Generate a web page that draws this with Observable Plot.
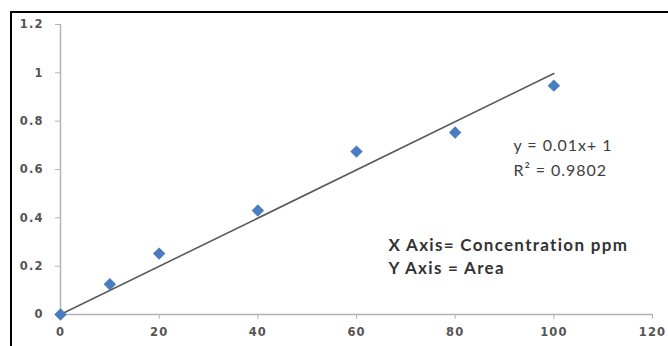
<!DOCTYPE html>
<html>
<head>
<meta charset="utf-8">
<script src="https://cdn.jsdelivr.net/npm/d3@7"></script>
<script src="https://cdn.jsdelivr.net/npm/@observablehq/plot@0.6"></script>
<style>
  html, body { margin: 0; padding: 0; background: #fff; }
  #wrap { position: relative; width: 668px; height: 346px; overflow: hidden; }
  #wrap svg { position: absolute; left: 0; top: 0; }
  .bl { position: absolute; left: 10px; top: 11px; width: 2px; height: 340px; background: #000; }
  .bt { position: absolute; left: 10px; top: 11px; width: 660px; height: 2px; background: #000; }
  g[aria-label="y-axis tick label"] text, g[aria-label="x-axis tick label"] text { letter-spacing: 1.1px; }
  g[aria-label="text"] text { letter-spacing: 0.95px; }
  g[aria-label="text"] text.note { letter-spacing: 1.3px; }
</style>
</head>
<body>
<div id="wrap"><div class="bl"></div><div class="bt"></div></div>
<script>
// Data
const concentration = [0, 10, 20, 40, 60, 80, 100];
const area = [0, 0.125, 0.252, 0.43, 0.674, 0.753, 0.947];
const trendX = [0, 100];
const trendY = [0, 0.997];
const xTicks = [0, 20, 40, 60, 80, 100, 120];
const yTicks = [0, 0.2, 0.4, 0.6, 0.8, 1, 1.2];
const equationLines = ["y = 0.01x+ 1", "R² = 0.9802"];
const noteLines = ["X Axis= Concentration ppm", "Y Axis = Area"];

const points = concentration.map((c, i) => ({x: c, y: area[i]}));
const trend = trendX.map((t, i) => ({x: t, y: trendY[i]}));

const tickFont = {fontSize: 11.5, fontFamily: "DejaVu Sans", fontWeight: "bold", fill: "#555"};

const chart = Plot.plot({
  width: 668,
  height: 346,
  marginLeft: 60,
  marginRight: 16,
  marginTop: 24,
  marginBottom: 32,
  style: {background: "transparent", overflow: "visible"},
  x: {domain: [0, 120]},
  y: {domain: [0, 1.2]},
  marks: [
    Plot.ruleX([0], {stroke: "#b3b3b3", strokeWidth: 1.5}),
    Plot.ruleY([0], {stroke: "#b3b3b3", strokeWidth: 1.5}),
    Plot.axisY({ticks: yTicks, tickSize: 5, tickPadding: 12, stroke: "#b3b3b3",
      tickFormat: d => String(d), label: null, ...tickFont}),
    Plot.axisX({ticks: xTicks, tickSize: 5, tickPadding: 8, stroke: "#b3b3b3",
      tickFormat: d => String(d), label: null, ...tickFont}),
    Plot.line(trend, {x: "x", y: "y", stroke: "#5a5a5a", strokeWidth: 1.6}),
    Plot.dot(points, {x: "x", y: "y", symbol: "diamond2", r: 5.6, fill: "#4a7dbf", stroke: "none"}),
    Plot.text([equationLines[0]], {frameAnchor: "top-left", dx: 453, dy: 121,
      textAnchor: "start", lineAnchor: "middle", fontSize: 16, fontFamily: "Lato", fill: "#404040"}),
    Plot.text([equationLines[1]], {frameAnchor: "top-left", dx: 453, dy: 146,
      textAnchor: "start", lineAnchor: "middle", fontSize: 16, fontFamily: "Lato", fill: "#404040"}),
    Plot.text([noteLines[0]], {frameAnchor: "top-left", dx: 328, dy: 221,
      textAnchor: "start", lineAnchor: "middle", fontSize: 17, fontFamily: "Lato", fontWeight: "bold", fill: "#333"}),
    Plot.text([noteLines[1]], {frameAnchor: "top-left", dx: 328, dy: 244,
      textAnchor: "start", lineAnchor: "middle", fontSize: 17, fontFamily: "Lato", fontWeight: "bold", fill: "#333"})
  ]
});
d3.select(chart).selectAll('g[aria-label="text"] text')
  .filter(function () { return noteLines.includes(this.textContent); })
  .classed("note", true);
document.getElementById("wrap").prepend(chart);
</script>
</body>
</html>
